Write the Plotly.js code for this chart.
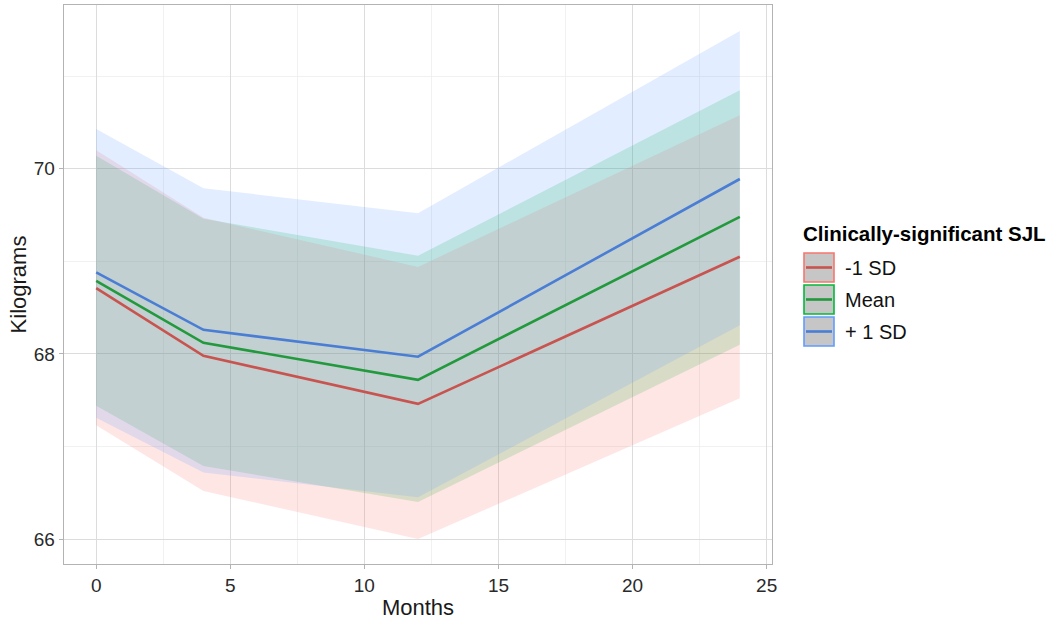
<!DOCTYPE html>
<html>
<head>
<meta charset="utf-8">
<script src="https://cdn.plot.ly/plotly-3.0.1.min.js"></script>
<style>
  html, body { margin: 0; padding: 0; background: #fff; }
  #chart { width: 1050px; height: 621px; }
</style>
</head>
<body>
<div id="chart"></div>
<script>
// data
const months = [0, 4, 12, 24];
const groups = ['-1 SD', 'Mean', '+ 1 SD'];

const lowMean = [68.71, 67.98, 67.46, 69.05];
const lowUpper = [70.20, 69.47, 68.94, 70.58];
const lowLower = [67.23, 66.52, 66.00, 67.52];

const midMean = [68.79, 68.12, 67.72, 69.48];
const midUpper = [70.14, 69.46, 69.06, 70.85];
const midLower = [67.44, 66.79, 66.40, 68.10];

const highMean = [68.88, 68.26, 67.97, 69.89];
const highUpper = [70.43, 69.79, 69.52, 71.49];
const highLower = [67.31, 66.72, 66.45, 68.31];

const fillColors = ['rgba(248,118,109,0.18)', 'rgba(0,186,56,0.18)', 'rgba(97,156,255,0.18)'];
const edgeColors = ['#F8766D', '#00BA38', '#619CFF'];
const lineColors = ['#c8534f', '#22993c', '#4a7dd4'];

const series = [
    { mean: lowMean, upper: lowUpper, lower: lowLower },
    { mean: midMean, upper: midUpper, lower: midLower },
    { mean: highMean, upper: highUpper, lower: highLower }
];

const font = 'Liberation Sans, Arial, sans-serif';

// ribbons first (green, red, blue), then lines on top
const ribbonOrder = [1, 0, 2];
const ribbons = ribbonOrder.map(i => {
    const s = series[i];
    return {
        x: months.concat(months.slice().reverse()),
        y: s.upper.concat(s.lower.slice().reverse()),
        type: 'scatter',
        mode: 'none',
        fill: 'toself',
        fillcolor: fillColors[i],
        hoverinfo: 'skip',
        showlegend: false
    };
});

const lines = series.map((s, i) => ({
    x: months,
    y: s.mean,
    name: groups[i],
    type: 'scatter',
    mode: 'lines',
    line: { color: lineColors[i], width: 2.6 },
    showlegend: false
}));

// plot area in pixels, used to place the hand-made legend
const plotLeft = 64, plotRight = 772, plotTop = 5, plotBottom = 564;
const px = (x) => (x - plotLeft) / (plotRight - plotLeft);
const py = (y) => (plotBottom - y) / (plotBottom - plotTop);

const shapes = [];
const annotations = [{
    text: '<b>Clinically-significant SJL</b>',
    xref: 'paper', yref: 'paper',
    x: px(801), y: py(233),
    xanchor: 'left', yanchor: 'middle',
    showarrow: false,
    font: { family: font, size: 20.5, color: '#000' }
}];

const keyTops = [252, 284, 316];
groups.forEach((g, i) => {
    const top = keyTops[i];
    shapes.push({
        type: 'rect', xref: 'paper', yref: 'paper',
        x0: px(804), x1: px(834), y0: py(top + 30), y1: py(top + 1),
        fillcolor: '#c6c6c6',
        line: { color: edgeColors[i], width: 1.6 }
    });
    shapes.push({
        type: 'line', xref: 'paper', yref: 'paper',
        x0: px(806), x1: px(832), y0: py(top + 15.5), y1: py(top + 15.5),
        line: { color: lineColors[i], width: 2.6 }
    });
    annotations.push({
        text: g,
        xref: 'paper', yref: 'paper',
        x: px(843), y: py(top + 16),
        xanchor: 'left', yanchor: 'middle',
        showarrow: false,
        font: { family: font, size: 20, color: '#111' }
    });
});

const layout = {
    width: 1050,
    height: 621,
    paper_bgcolor: '#fff',
    plot_bgcolor: '#fff',
    margin: { l: plotLeft, r: 1050 - plotRight, t: plotTop, b: 621 - plotBottom },
    font: { family: font },
    xaxis: {
        range: [-1.2, 25.2],
        tickvals: [0, 5, 10, 15, 20, 25],
        ticks: 'outside', ticklen: 4, tickcolor: '#b3b3b3', tickwidth: 1,
        tickfont: { family: font, size: 19, color: '#2a2a2a' },
        showgrid: true, gridcolor: '#dcdcdc', gridwidth: 1,
        minor: { tickvals: [2.5, 7.5, 12.5, 17.5, 22.5], showgrid: true, gridcolor: '#ededed', gridwidth: 0.8 },
        zeroline: false,
        showline: true, mirror: true, linecolor: '#b3b3b3', linewidth: 1.3,
        title: { text: 'Months', font: { family: font, size: 22, color: '#1a1a1a' }, standoff: 4 }
    },
    yaxis: {
        range: [65.73, 71.77],
        tickvals: [66, 68, 70],
        ticks: 'outside', ticklen: 4, tickcolor: '#b3b3b3', tickwidth: 1,
        tickfont: { family: font, size: 19, color: '#2a2a2a' },
        showgrid: true, gridcolor: '#dcdcdc', gridwidth: 1,
        minor: { tickvals: [67, 69, 71], showgrid: true, gridcolor: '#ededed', gridwidth: 0.8 },
        zeroline: false,
        showline: true, mirror: true, linecolor: '#b3b3b3', linewidth: 1.3,
        title: { text: 'Kilograms', font: { family: font, size: 22, color: '#1a1a1a' }, standoff: 1 }
    },
    shapes: shapes,
    annotations: annotations,
    showlegend: false
};

Plotly.newPlot('chart', ribbons.concat(lines), layout, { displayModeBar: false, staticPlot: true });
</script>
</body>
</html>
